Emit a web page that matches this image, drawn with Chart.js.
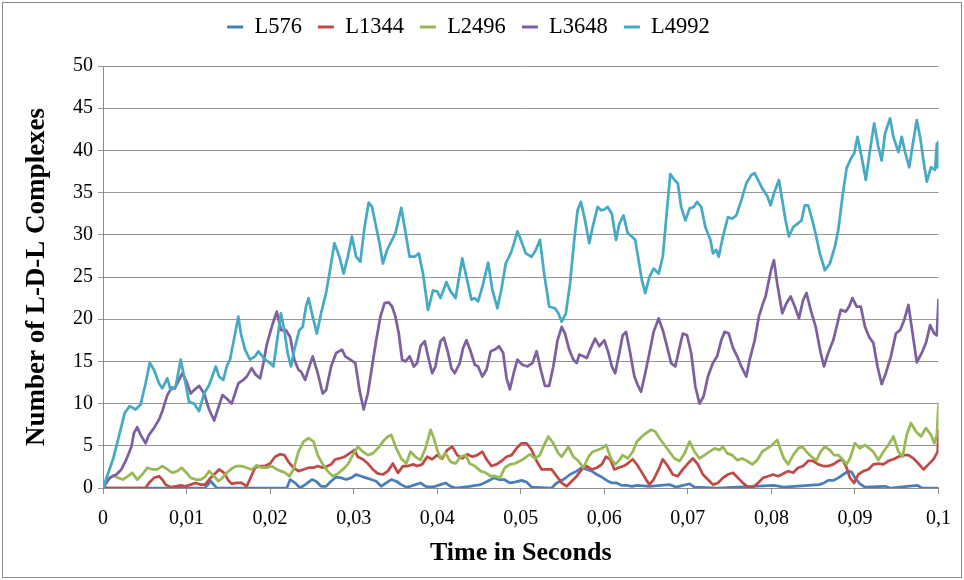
<!DOCTYPE html>
<html>
<head>
<meta charset="utf-8">
<title>Number of L-D-L Complexes</title>
<script src="https://cdn.jsdelivr.net/npm/chart.js@4.4.1/dist/chart.umd.min.js"></script>
<style>
  html, body { margin: 0; padding: 0; background: #ffffff; }
  #wrap { position: relative; width: 964px; height: 580px; overflow: hidden; background: #ffffff; }
  #c { position: absolute; left: 0; top: 0; }
  #frame { position: absolute; left: 2px; top: 2px; width: 958px; height: 574px; border: 1px solid #8c8c8c; pointer-events: none; }
</style>
</head>
<body>
<div id="wrap">
  <canvas id="c" width="964" height="580"></canvas>
  <div id="frame"></div>
</div>
<script>
// Each series: [time in seconds, number of complexes]
const seriesNames = ['L576', 'L1344', 'L2496', 'L3648', 'L4992'];

const l576 = [
  [0,0],[0.0122,0],[0.0129,0.8],[0.0136,0],[0.0220,0],[0.0224,1.0],[0.0230,0.6],[0.0236,0],
  [0.0242,0.4],[0.0250,1.0],[0.0255,0.8],[0.0261,0.2],[0.0267,0.2],[0.0273,0.8],[0.0279,1.3],
  [0.0285,1.2],[0.0291,1.0],[0.0297,1.2],[0.0303,1.6],[0.0309,1.4],[0.0315,1.2],[0.0321,1.0],
  [0.0327,0.8],[0.0333,0.2],[0.0339,0.6],[0.0345,1.0],[0.0351,0.8],[0.0357,0.4],[0.0363,0.1],
  [0.0368,0.2],[0.0374,0.4],[0.0380,0.6],[0.0386,0.2],[0.0392,0.1],[0.0398,0.2],[0.0404,0.4],
  [0.0410,0.6],[0.0416,0.2],[0.0422,0],[0.0439,0.2],[0.0452,0.4],[0.0462,0.9],[0.0468,1.2],
  [0.0474,1.0],[0.0480,1.0],[0.0487,0.6],[0.0493,0.7],[0.0501,0.9],[0.0507,0.7],[0.0513,0.1],
  [0.0537,0],[0.0543,0.6],[0.0551,1.0],[0.0559,1.6],[0.0567,2.0],[0.0573,2.4],[0.0579,2.2],
  [0.0585,2.0],[0.0591,1.6],[0.0597,1.3],[0.0603,0.9],[0.0609,0.6],[0.0615,0.6],[0.0621,0.3],
  [0.0627,0.3],[0.0633,0.2],[0.0639,0.3],[0.0654,0.2],[0.0678,0.4],[0.0686,0.1],[0.0702,0.5],
  [0.0708,0.1],[0.0735,0],[0.0803,0.3],[0.0815,0.1],[0.0857,0.4],[0.0863,0.6],[0.0868,0.9],
  [0.0874,0.9],[0.0880,1.2],[0.0886,1.6],[0.0892,2.0],[0.0896,1.9],[0.0900,1.2],[0.0906,0.5],
  [0.0912,0.1],[0.0936,0.2],[0.0942,0],[0.0975,0.3],[0.0980,0],[0.1000,0]
];

const l1344 = [
  [0,0],[0.0051,0],[0.0055,0.6],[0.0061,1.2],[0.0067,1.4],[0.0071,1.0],[0.0075,0.4],[0.0081,0.1],
  [0.0087,0.2],[0.0093,0.3],[0.0099,0.2],[0.0105,0.4],[0.0111,0.6],[0.0117,0.4],[0.0122,0.4],
  [0.0127,1.0],[0.0133,1.6],[0.0139,2.2],[0.0145,1.8],[0.0150,0.9],[0.0154,0.5],[0.0160,0.6],
  [0.0166,0.6],[0.0172,0.2],[0.0177,1.3],[0.0182,2.4],[0.0188,2.6],[0.0194,2.6],[0.0200,2.9],
  [0.0206,3.7],[0.0212,4.0],[0.0217,3.9],[0.0222,3.1],[0.0228,2.4],[0.0234,2.0],[0.0240,2.2],
  [0.0246,2.4],[0.0252,2.4],[0.0257,2.6],[0.0263,2.4],[0.0269,2.6],[0.0273,2.8],[0.0278,3.4],
  [0.0283,3.5],[0.0289,3.7],[0.0295,4.1],[0.0301,4.5],[0.0305,3.7],[0.0311,3.4],[0.0317,2.9],
  [0.0323,2.2],[0.0329,1.7],[0.0335,1.6],[0.0341,2.0],[0.0347,2.9],[0.0353,1.8],[0.0359,2.6],
  [0.0365,2.6],[0.0371,2.8],[0.0376,2.6],[0.0382,2.8],[0.0388,3.7],[0.0394,3.4],[0.0400,3.9],
  [0.0406,3.5],[0.0412,4.5],[0.0418,4.9],[0.0424,3.9],[0.0430,3.5],[0.0436,4.0],[0.0442,3.7],
  [0.0448,3.9],[0.0454,4.3],[0.0459,3.4],[0.0465,2.6],[0.0471,2.8],[0.0477,3.2],[0.0483,3.7],
  [0.0489,3.9],[0.0495,4.7],[0.0501,5.3],[0.0507,5.3],[0.0513,4.5],[0.0519,3.2],[0.0525,2.2],
  [0.0531,2.2],[0.0537,2.2],[0.0543,1.4],[0.0549,0.6],[0.0555,0.2],[0.0561,0.8],[0.0567,1.4],
  [0.0573,2.2],[0.0579,2.6],[0.0585,2.2],[0.0591,2.4],[0.0597,2.8],[0.0602,3.7],[0.0607,3.4],
  [0.0612,2.2],[0.0617,2.4],[0.0623,2.6],[0.0628,2.9],[0.0634,3.4],[0.0639,2.8],[0.0644,2.0],
  [0.0650,1.0],[0.0654,0.4],[0.0659,1.0],[0.0665,2.2],[0.0670,3.4],[0.0676,2.6],[0.0682,1.6],
  [0.0688,1.4],[0.0694,2.2],[0.0700,2.9],[0.0706,3.5],[0.0712,2.8],[0.0718,1.6],[0.0724,1.0],
  [0.0730,0.4],[0.0736,0.6],[0.0742,1.2],[0.0748,1.6],[0.0754,1.8],[0.0760,1.2],[0.0766,0.6],
  [0.0772,0.1],[0.0778,0.1],[0.0784,0.6],[0.0790,1.2],[0.0796,1.4],[0.0802,1.6],[0.0808,1.4],
  [0.0814,1.7],[0.0820,2.0],[0.0826,1.8],[0.0832,2.4],[0.0838,2.6],[0.0844,3.2],[0.0850,3.2],
  [0.0856,2.8],[0.0862,2.6],[0.0868,2.6],[0.0874,2.8],[0.0880,3.2],[0.0885,3.4],[0.0890,2.4],
  [0.0894,1.2],[0.0899,0.6],[0.0904,1.6],[0.0910,2.0],[0.0916,2.2],[0.0922,2.8],[0.0928,2.9],
  [0.0934,2.8],[0.0940,3.2],[0.0946,3.4],[0.0952,3.7],[0.0958,3.9],[0.0964,3.9],[0.0970,3.5],
  [0.0976,2.9],[0.0982,2.2],[0.0988,2.8],[0.0994,3.4],[0.0999,4.3],[0.1000,6.8]
];

const l2496 = [
  [0,0],[0.0006,1.0],[0.0012,1.5],[0.0018,1.2],[0.0024,1.0],[0.0030,1.4],[0.0035,1.8],[0.0041,1.0],
  [0.0047,1.6],[0.0053,2.4],[0.0059,2.2],[0.0065,2.2],[0.0071,2.6],[0.0077,2.2],[0.0083,1.8],
  [0.0089,2.0],[0.0094,2.4],[0.0100,1.8],[0.0105,1.2],[0.0111,1.0],[0.0117,1.0],[0.0122,1.3],
  [0.0127,2.0],[0.0133,1.4],[0.0138,0.8],[0.0143,1.2],[0.0148,1.8],[0.0154,2.3],[0.0160,2.6],
  [0.0166,2.6],[0.0172,2.4],[0.0178,2.2],[0.0184,2.7],[0.0190,2.4],[0.0196,2.4],[0.0202,2.6],
  [0.0208,2.2],[0.0213,2.0],[0.0218,1.8],[0.0223,1.4],[0.0228,2.2],[0.0234,4.3],[0.0240,5.5],
  [0.0246,5.9],[0.0252,5.5],[0.0257,3.9],[0.0263,2.8],[0.0269,2.0],[0.0275,1.4],[0.0281,1.7],
  [0.0287,2.2],[0.0293,2.8],[0.0299,3.9],[0.0305,4.9],[0.0311,4.3],[0.0317,3.9],[0.0323,4.1],
  [0.0329,4.7],[0.0335,5.5],[0.0341,6.1],[0.0345,6.3],[0.0351,4.7],[0.0357,3.5],[0.0363,2.9],
  [0.0368,4.3],[0.0374,3.7],[0.0380,3.3],[0.0386,4.7],[0.0392,6.9],[0.0396,5.9],[0.0400,4.5],
  [0.0404,3.5],[0.0410,4.1],[0.0416,3.1],[0.0422,2.9],[0.0428,3.7],[0.0434,3.9],[0.0439,2.9],
  [0.0445,2.6],[0.0452,2.0],[0.0458,1.8],[0.0464,1.4],[0.0470,1.4],[0.0475,1.2],[0.0481,2.4],
  [0.0487,2.8],[0.0493,2.9],[0.0501,3.3],[0.0507,3.7],[0.0511,4.0],[0.0517,3.5],[0.0523,3.9],
  [0.0527,4.9],[0.0533,6.1],[0.0539,5.3],[0.0545,4.1],[0.0549,3.7],[0.0557,4.9],[0.0563,3.7],
  [0.0569,3.2],[0.0575,2.4],[0.0581,3.7],[0.0586,4.3],[0.0592,4.5],[0.0597,4.7],[0.0602,5.1],
  [0.0608,3.5],[0.0613,2.8],[0.0618,3.3],[0.0622,3.9],[0.0628,3.5],[0.0634,4.3],[0.0639,5.5],
  [0.0645,6.1],[0.0650,6.5],[0.0656,6.9],[0.0661,6.7],[0.0666,5.9],[0.0672,5.1],[0.0678,4.3],
  [0.0684,3.5],[0.0690,3.2],[0.0696,4.1],[0.0702,5.5],[0.0708,4.3],[0.0714,3.5],[0.0720,3.9],
  [0.0726,4.3],[0.0732,4.7],[0.0738,4.5],[0.0742,4.9],[0.0747,4.1],[0.0753,3.9],[0.0759,3.3],
  [0.0765,3.5],[0.0771,3.2],[0.0777,2.8],[0.0783,3.3],[0.0789,4.3],[0.0795,4.7],[0.0801,5.1],
  [0.0807,5.7],[0.0811,4.5],[0.0815,3.5],[0.0820,2.8],[0.0826,3.9],[0.0832,4.7],[0.0837,4.9],
  [0.0842,4.3],[0.0848,3.7],[0.0854,3.3],[0.0859,4.3],[0.0864,4.9],[0.0870,4.5],[0.0875,3.9],
  [0.0880,3.9],[0.0886,3.3],[0.0890,2.8],[0.0894,3.5],[0.0900,5.3],[0.0906,4.7],[0.0912,5.1],
  [0.0917,4.7],[0.0922,4.3],[0.0928,3.3],[0.0934,4.3],[0.0940,5.1],[0.0946,6.1],[0.0952,4.3],
  [0.0957,3.7],[0.0962,6.3],[0.0967,7.7],[0.0973,6.7],[0.0979,6.1],[0.0985,7.1],[0.0991,6.3],
  [0.0995,5.3],[0.0998,6.3],[0.1000,9.9]
];

const l3648 = [
  [0,0],[0.0008,1.2],[0.0016,1.6],[0.0022,2.2],[0.0028,3.4],[0.0034,4.9],[0.0037,6.5],[0.0041,7.2],
  [0.0045,6.3],[0.0051,5.3],[0.0055,6.3],[0.0061,7.1],[0.0067,8.1],[0.0071,9.1],[0.0077,11.0],
  [0.0082,11.9],[0.0086,11.8],[0.0090,12.6],[0.0095,13.6],[0.0100,12.6],[0.0105,11.2],
  [0.0109,11.6],[0.0115,12.1],[0.0121,11.2],[0.0127,9.3],[0.0133,8.0],[0.0138,9.5],[0.0143,11.0],
  [0.0148,10.6],[0.0154,10.0],[0.0158,11.2],[0.0162,12.4],[0.0168,12.8],[0.0172,13.2],
  [0.0178,14.2],[0.0183,13.4],[0.0188,13.0],[0.0192,14.8],[0.0196,17.0],[0.0202,19.1],
  [0.0208,20.9],[0.0213,18.7],[0.0219,18.7],[0.0224,17.9],[0.0229,15.2],[0.0234,14.0],
  [0.0237,13.8],[0.0242,12.8],[0.0247,14.4],[0.0251,15.6],[0.0257,13.6],[0.0263,11.2],
  [0.0267,11.6],[0.0273,14.4],[0.0279,16.0],[0.0286,16.4],[0.0290,15.6],[0.0296,15.2],
  [0.0302,14.8],[0.0307,11.6],[0.0312,9.3],[0.0317,11.2],[0.0322,14.4],[0.0327,17.5],
  [0.0332,20.3],[0.0337,21.9],[0.0342,22.0],[0.0346,21.5],[0.0350,20.3],[0.0354,18.3],
  [0.0358,15.2],[0.0362,15.0],[0.0367,15.6],[0.0372,14.4],[0.0376,14.8],[0.0380,16.8],
  [0.0385,17.4],[0.0390,15.2],[0.0394,13.6],[0.0398,14.4],[0.0400,15.6],[0.0404,17.4],
  [0.0408,17.8],[0.0413,16.0],[0.0417,14.2],[0.0421,13.6],[0.0427,14.8],[0.0431,16.6],
  [0.0435,17.5],[0.0440,16.2],[0.0445,14.6],[0.0449,14.4],[0.0454,13.2],[0.0459,14.0],
  [0.0464,16.2],[0.0469,16.4],[0.0474,16.8],[0.0479,16.0],[0.0483,13.0],[0.0487,11.7],
  [0.0492,13.8],[0.0496,15.2],[0.0502,14.6],[0.0508,14.4],[0.0514,14.8],[0.0519,16.2],
  [0.0524,14.0],[0.0529,12.1],[0.0534,12.1],[0.0539,14.4],[0.0544,17.5],[0.0549,19.1],
  [0.0553,18.3],[0.0558,16.4],[0.0563,15.2],[0.0567,14.8],[0.0570,15.8],[0.0575,15.6],
  [0.0579,15.4],[0.0584,16.6],[0.0589,17.7],[0.0594,16.8],[0.0600,17.5],[0.0605,16.0],
  [0.0609,14.4],[0.0613,13.6],[0.0618,16.0],[0.0622,18.1],[0.0626,18.5],[0.0631,16.0],
  [0.0636,13.2],[0.0640,12.2],[0.0644,11.4],[0.0649,13.6],[0.0654,16.0],[0.0659,18.5],
  [0.0665,20.1],[0.0670,18.7],[0.0675,16.8],[0.0680,14.8],[0.0685,14.4],[0.0690,16.6],
  [0.0694,18.3],[0.0699,18.1],[0.0704,16.0],[0.0709,12.0],[0.0714,10.0],[0.0719,10.9],
  [0.0724,13.2],[0.0730,14.8],[0.0735,15.6],[0.0740,17.5],[0.0744,18.5],[0.0749,18.3],
  [0.0754,16.6],[0.0759,15.6],[0.0764,14.4],[0.0770,13.2],[0.0774,15.2],[0.0780,17.5],
  [0.0785,20.3],[0.0790,21.9],[0.0793,22.7],[0.0797,24.6],[0.0800,26.0],[0.0803,27.0],
  [0.0807,24.2],[0.0813,20.7],[0.0818,21.9],[0.0823,22.7],[0.0828,21.5],[0.0833,20.1],
  [0.0838,22.3],[0.0842,23.1],[0.0847,21.1],[0.0853,19.1],[0.0859,16.0],[0.0863,14.4],
  [0.0868,16.0],[0.0874,17.5],[0.0878,19.1],[0.0883,21.1],[0.0889,20.9],[0.0893,21.5],
  [0.0897,22.5],[0.0902,21.5],[0.0907,21.5],[0.0912,19.1],[0.0917,17.9],[0.0922,17.2],
  [0.0927,14.4],[0.0932,12.3],[0.0937,13.6],[0.0943,15.6],[0.0949,18.3],[0.0954,18.7],
  [0.0959,19.9],[0.0964,21.7],[0.0969,18.3],[0.0974,14.9],[0.0980,16.0],[0.0985,17.2],
  [0.0990,19.3],[0.0995,18.3],[0.0998,18.1],[0.1000,22.3]
];

const l4992 = [
  [0,0],[0.0012,3.4],[0.0020,6.5],[0.0026,8.9],[0.0032,9.7],[0.0039,9.3],[0.0045,9.9],[0.0051,12.4],
  [0.0056,14.8],[0.0061,14.0],[0.0067,12.4],[0.0071,11.8],[0.0077,13.0],[0.0081,11.6],[0.0087,12.0],
  [0.0093,15.2],[0.0098,12.8],[0.0103,10.2],[0.0109,10.0],[0.0115,9.1],[0.0121,11.2],[0.0127,12.2],
  [0.0135,14.4],[0.0139,13.2],[0.0144,12.8],[0.0148,14.4],[0.0152,15.2],[0.0162,20.3],[0.0165,18.3],
  [0.0170,16.4],[0.0176,15.2],[0.0182,15.6],[0.0186,16.2],[0.0194,15.2],[0.0200,14.8],[0.0204,14.4],
  [0.0213,20.7],[0.0217,18.7],[0.0221,16.0],[0.0225,14.4],[0.0229,16.4],[0.0235,18.7],[0.0239,19.1],
  [0.0243,21.5],[0.0246,22.5],[0.0251,20.3],[0.0256,18.3],[0.0261,20.7],[0.0267,23.1],[0.0271,25.4],
  [0.0277,29.0],[0.0283,27.4],[0.0288,25.4],[0.0293,27.4],[0.0298,29.8],[0.0303,27.4],[0.0308,26.8],
  [0.0313,30.9],[0.0318,33.8],[0.0322,33.3],[0.0327,30.9],[0.0331,29.0],[0.0335,26.6],[0.0340,28.2],
  [0.0345,29.2],[0.0350,30.2],[0.0357,33.2],[0.0361,30.9],[0.0367,27.4],[0.0373,27.4],[0.0378,27.8],
  [0.0383,25.4],[0.0389,21.1],[0.0395,23.4],[0.0400,23.3],[0.0404,22.5],[0.0411,24.4],[0.0416,23.3],
  [0.0422,22.5],[0.0430,27.2],[0.0435,25.0],[0.0441,22.3],[0.0445,22.5],[0.0449,22.1],[0.0455,24.2],
  [0.0461,26.7],[0.0466,23.5],[0.0472,21.3],[0.0477,23.6],[0.0482,26.6],[0.0488,27.8],[0.0492,29.0],
  [0.0496,30.4],[0.0500,29.4],[0.0506,27.8],[0.0513,27.4],[0.0518,28.2],[0.0523,29.4],[0.0528,25.4],
  [0.0534,21.5],[0.0541,21.3],[0.0545,20.7],[0.0549,19.7],[0.0554,20.7],[0.0559,24.2],[0.0564,29.4],
  [0.0568,32.9],[0.0572,33.9],[0.0577,31.7],[0.0582,29.0],[0.0586,30.9],[0.0592,33.3],[0.0596,32.9],
  [0.0600,33.0],[0.0604,33.3],[0.0609,32.5],[0.0614,29.4],[0.0618,31.3],[0.0623,32.3],[0.0628,30.2],
  [0.0633,29.8],[0.0637,29.4],[0.0641,27.0],[0.0645,24.6],[0.0649,23.1],[0.0654,25.0],[0.0659,26.0],
  [0.0665,25.4],[0.0670,27.4],[0.0675,32.9],[0.0679,37.2],[0.0684,36.5],[0.0688,36.1],[0.0692,33.3],
  [0.0697,31.7],[0.0702,33.1],[0.0707,33.3],[0.0711,33.9],[0.0716,33.3],[0.0721,30.9],[0.0727,29.4],
  [0.0730,27.8],[0.0734,28.2],[0.0737,27.4],[0.0742,29.8],[0.0748,32.1],[0.0753,31.9],[0.0758,32.3],
  [0.0764,34.1],[0.0770,36.1],[0.0776,37.1],[0.0780,37.3],[0.0784,36.5],[0.0789,35.5],[0.0795,34.6],
  [0.0799,33.5],[0.0803,34.9],[0.0809,36.5],[0.0813,34.1],[0.0817,31.7],[0.0821,29.8],[0.0826,30.9],
  [0.0831,31.3],[0.0836,31.7],[0.0840,33.5],[0.0844,33.5],[0.0849,31.7],[0.0853,30.1],[0.0858,27.8],
  [0.0864,25.8],[0.0870,26.6],[0.0876,28.6],[0.0880,30.5],[0.0885,34.5],[0.0890,37.9],[0.0896,39.2],
  [0.0899,39.6],[0.0903,41.6],[0.0908,39.2],[0.0913,36.5],[0.0918,40.0],[0.0923,43.2],[0.0928,40.4],
  [0.0932,38.8],[0.0936,42.0],[0.0942,43.8],[0.0946,41.6],[0.0952,39.8],[0.0956,41.6],[0.0960,39.8],
  [0.0965,38.0],[0.0970,41.2],[0.0974,43.6],[0.0978,41.6],[0.0982,38.8],[0.0986,36.3],[0.0991,38.0],
  [0.0996,37.7],[0.0998,40.8],[0.0999,38.0],[0.1000,41.0]
];

const seriesData = [l576, l1344, l2496, l3648, l4992];
const seriesColors = ['#4a7ebb', '#be4b48', '#98b954', '#7d60a0', '#46aac5'];

const xTicks = { min: 0, max: 0.1, step: 0.01 };
const yTicks = { min: 0, max: 50, step: 5 };

// plot frame in canvas pixels
const PLOT = { left: 103, right: 945, top: 66, bottom: 488 };
const LEGEND_CY = 27;
const LEGEND_DX = -4;

const serif = "'Liberation Serif', 'Times New Roman', Times, serif";
Chart.defaults.font.family = serif;
Chart.defaults.color = '#000000';

const axisGrey = '#8c8c8c';
const gridGrey = '#969696';

function fmtComma(v) {
  const r = Math.round(v * 100) / 100;
  return r === 0 ? '0' : String(r).replace('.', ',');
}

const legendPlace = {
  id: 'legendPlace',
  afterLayout(chart) {
    const lg = chart.legend;
    if (!lg) return;
    const lab = chart.options.plugins.legend.labels;
    const h = lg.bottom - lg.top;
    lg.top = LEGEND_CY - lab.padding - lab.font.size / 2;
    lg.bottom = lg.top + h;
    lg.left += LEGEND_DX;
    lg.right += LEGEND_DX;
  }
};

const n = seriesNames.length;
const chart = new Chart(document.getElementById('c'), {
  type: 'line',
  data: {
    datasets: seriesNames.map((name, i) => ({
      label: name,
      data: seriesData[i].map(p => ({ x: p[0], y: p[1] })),
      borderColor: seriesColors[i],
      backgroundColor: seriesColors[i],
      borderWidth: 2.75,
      pointRadius: 0,
      pointHoverRadius: 0,
      tension: 0,
      fill: false,
      borderJoinStyle: 'round',
      borderCapStyle: 'round',
      order: n - i
    }))
  },
  options: {
    responsive: false,
    animation: false,
    devicePixelRatio: 1,
    events: [],
    layout: { padding: { left: 0, right: 964 - PLOT.right, top: 0, bottom: 0 } },
    plugins: {
      tooltip: { enabled: false },
      legend: {
        position: 'top',
        align: 'center',
        labels: {
          font: { size: 22.5, family: serif },
          color: '#000000',
          boxWidth: 16,
          boxHeight: 3,
          padding: 16,
          sort: (a, b) => a.datasetIndex - b.datasetIndex,
          generateLabels: (ch) => Chart.defaults.plugins.legend.labels.generateLabels(ch)
            .map(item => Object.assign(item, { lineWidth: 0 }))
        }
      }
    },
    scales: {
      x: {
        type: 'linear',
        min: xTicks.min,
        max: xTicks.max,
        afterFit: (s) => { s.height = 580 - PLOT.bottom; },
        border: { display: true, color: axisGrey, width: 1 },
        grid: { display: true, drawOnChartArea: false, drawTicks: true, tickLength: 6, color: axisGrey },
        ticks: {
          stepSize: xTicks.step,
          padding: 13,
          maxRotation: 0,
          autoSkip: false,
          font: { size: 20, family: serif },
          color: '#000000',
          callback: (v) => fmtComma(v)
        },
        title: {
          display: true,
          text: 'Time in Seconds',
          font: { size: 26, weight: 'bold', family: serif },
          color: '#000000',
          padding: { top: 0, bottom: 11 }
        }
      },
      y: {
        type: 'linear',
        min: yTicks.min,
        max: yTicks.max,
        afterFit: (s) => { s.width = PLOT.left; },
        border: { display: true, color: axisGrey, width: 1 },
        grid: { display: true, drawTicks: true, tickLength: 5, color: gridGrey },
        ticks: {
          stepSize: yTicks.step,
          padding: 5,
          font: { size: 20, family: serif },
          color: '#000000'
        },
        title: {
          display: true,
          text: 'Number of L-D-L Complexes',
          font: { size: 27, weight: 'bold', family: serif },
          color: '#000000',
          padding: { top: 21, bottom: 0 }
        }
      }
    }
  },
  plugins: [legendPlace]
});

// pin the top of the plot area
const dy = PLOT.top - chart.chartArea.top;
if (dy !== 0) {
  chart.options.layout.padding.top = Math.max(0, dy);
  chart.update('none');
}
</script>
</body>
</html>
